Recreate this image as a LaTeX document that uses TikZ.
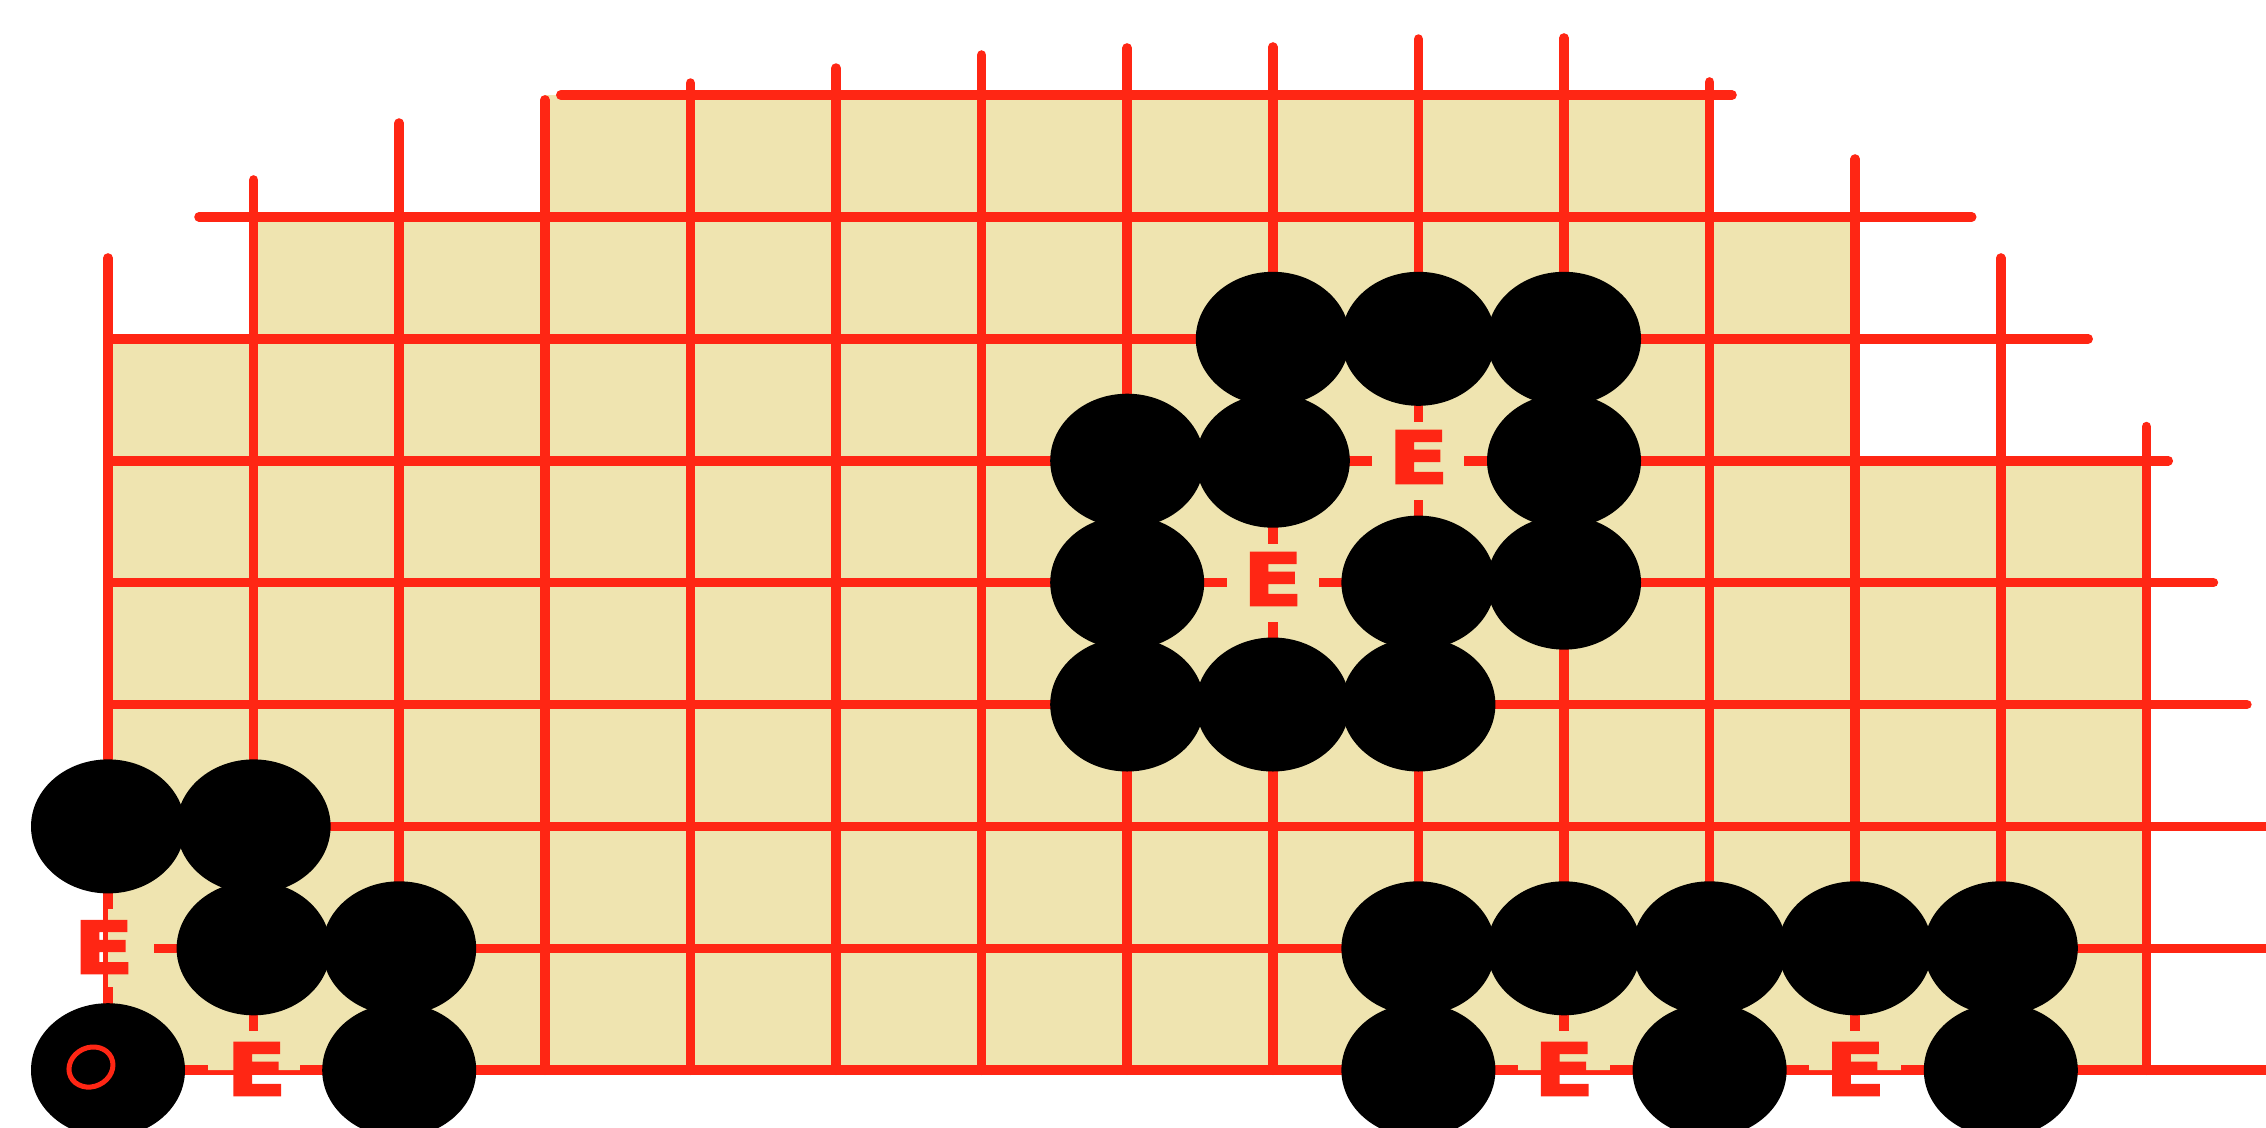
\documentclass[tikz,border=0pt]{standalone}
\usepackage{fontspec}
\setmainfont{Liberation Sans}
\newfontfamily\efont{DejaVu Sans}[UprightFont=* Bold,FakeStretch=1.22,FakeBold=3]
\usetikzlibrary{shapes.geometric}
\definecolor{boardtan}{RGB}{239,228,176}
\definecolor{gridred}{RGB}{255,38,20}
\begin{document}
\begin{tikzpicture}[x=72.8pt,y=-60.95pt,
  gridline/.style={draw=gridred,line width=4.8pt,line cap=round},
  stone/.style={ellipse,fill=black,minimum width=77pt,minimum height=67pt,inner sep=0pt},
  elabel/.style={text=gridred,font=\efont\fontsize{36}{36}\selectfont,inner sep=0pt},
  gapbox/.style={fill=boardtan,minimum width=46pt,minimum height=39pt,inner sep=0pt},
  marker/.style={ellipse,draw=gridred,line width=2.5pt,minimum width=22.5pt,minimum height=19.5pt,inner sep=0pt,rotate=25}]
\useasboundingbox (-0.7418,-0.7793) rectangle (14.8214,8.466);
% board area
\fill[boardtan] (3,0) -- (11,0) -- (11,1) -- (12,1) -- (12,3) -- (14,3) -- (14,8) -- (0,8) -- (0,2) -- (1,2) -- (1,1) -- (3,1) -- cycle;
% vertical lines
\foreach \c/\t in {0/1.337,1/0.697,2/0.23,3/0.04,4/-0.098,5/-0.221,6/-0.328,7/-0.386,8/-0.394,9/-0.459,10/-0.468,11/-0.107,12/0.525,13/1.337,14/2.72}
  \draw[gridline] (\c,\t) -- (\c,8);
% horizontal lines
\foreach \r/\a/\b in {0/3.11/11.154,1/0.625/12.80,2/0/13.60,3/0/14.15,4/0/14.46,5/0/14.69,6/0/15.2,7/0/15.2,8/0/15.2}
  \draw[gridline] (\a,\r) -- (\b,\r);
% gaps around the E labels
\begin{scope}
\clip (3,0) -- (11,0) -- (11,1) -- (12,1) -- (12,3) -- (14,3) -- (14,8) -- (0,8) -- (0,2) -- (1,2) -- (1,1) -- (3,1) -- cycle;
\foreach \c/\r [count=\i] in {9/3,8/4,0/7,1/8,10/8,12/8}
  \node[gapbox] (g\i) at (\c,\r) {};
\end{scope}
% stones
\foreach \c/\r [count=\i] in {8/2,9/2,10/2,7/3,8/3,10/3,7/4,9/4,10/4,7/5,8/5,9/5,
  0/6,1/6,1/7,2/7,0/8,2/8,
  9/7,10/7,11/7,12/7,13/7,9/8,11/8,13/8}
  \node[stone] (s\i) at (\c,\r) {};
% E labels
\node[elabel] (e1) at (9,2.97) {E};
\node[elabel] (e2) at (8,3.97) {E};
\node[elabel] (e3) at (-0.03,6.99) {E};
\node[elabel] (e4) at (1.02,7.99) {E};
\node[elabel] (e5) at (10,7.99) {E};
\node[elabel] (e6) at (12,7.99) {E};
% marker on the corner stone
\node[marker] (m) at (-0.117,7.974) {};
\end{tikzpicture}
\end{document}
